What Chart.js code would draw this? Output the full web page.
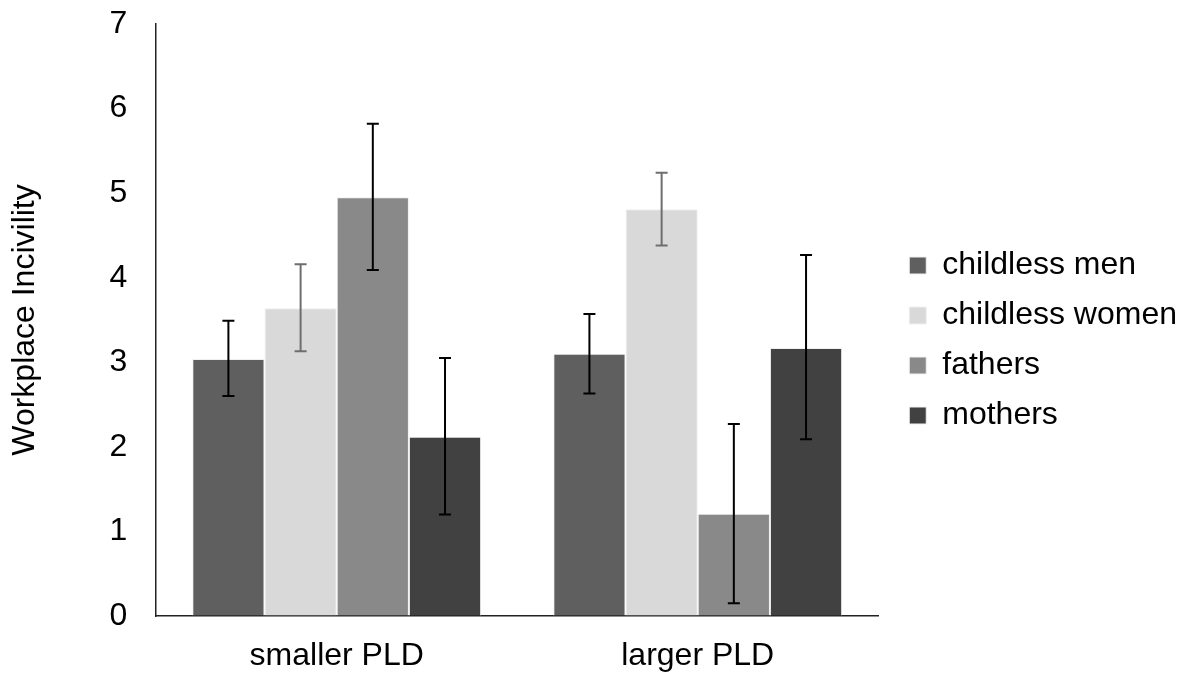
<!DOCTYPE html>
<html lang="en">
<head>
    <meta charset="utf-8">
    <title>Workplace Incivility</title>
    <script src="https://cdn.jsdelivr.net/npm/chart.js"></script>
    <style>
        html, body { margin: 0; padding: 0; background: #fff; }
        .wrap { width: 1185px; height: 676px; }
    </style>
</head>
<body>
    <div class="wrap">
        <canvas id="myChart" width="1185" height="676"></canvas>
    </div>

    <script>
        // values
        const categories = ['smaller PLD', 'larger PLD'];
        const seriesNames = ['childless men', 'childless women', 'fathers', 'mothers'];

        const childlessMen = [3.04, 3.10];
        const childlessWomen = [3.64, 4.81];
        const fathers = [4.95, 1.21];
        const mothers = [2.12, 3.17];

        // error bar ends (upper / lower)
        const childlessMenHi = [3.49, 3.57];
        const childlessMenLo = [2.60, 2.63];
        const childlessWomenHi = [4.16, 5.24];
        const childlessWomenLo = [3.13, 4.38];
        const fathersHi = [5.82, 2.27];
        const fathersLo = [4.09, 0.15];
        const mothersHi = [3.05, 4.27];
        const mothersLo = [1.20, 2.09];

        const yTicks = [0, 1, 2, 3, 4, 5, 6, 7];

        const fontFamily = '"Liberation Sans", Arial, sans-serif';
        const fontSize = 32;
        const colors = ['#5f5f5f', '#d9d9d9', '#898989', '#414141'];
        const errColors = ['#000', '#6e6e6e', '#000', '#000'];
        const allValues = [childlessMen, childlessWomen, fathers, mothers];
        const allHi = [childlessMenHi, childlessWomenHi, fathersHi, mothersHi];
        const allLo = [childlessMenLo, childlessWomenLo, fathersLo, mothersLo];

        const data = {
            labels: categories,
            datasets: seriesNames.map((name, i) => ({
                label: name,
                data: allValues[i],
                backgroundColor: colors[i],
                borderColor: '#f0f0f0',
                borderWidth: 1,
                errHi: allHi[i],
                errLo: allLo[i],
                errColor: errColors[i]
            }))
        };

        const errorBars = {
            id: 'errorBars',
            afterDatasetsDraw(chart) {
                const ctx = chart.ctx;
                const y = chart.scales.y;
                chart.data.datasets.forEach((ds, i) => {
                    const meta = chart.getDatasetMeta(i);
                    meta.data.forEach((bar, j) => {
                        const x = bar.x;
                        const top = y.getPixelForValue(ds.errHi[j]);
                        const bottom = y.getPixelForValue(ds.errLo[j]);
                        ctx.save();
                        ctx.strokeStyle = ds.errColor;
                        ctx.lineWidth = 2;
                        ctx.beginPath();
                        ctx.moveTo(x, top);
                        ctx.lineTo(x, bottom);
                        ctx.moveTo(x - 6, top);
                        ctx.lineTo(x + 6, top);
                        ctx.moveTo(x - 6, bottom);
                        ctx.lineTo(x + 6, bottom);
                        ctx.stroke();
                        ctx.restore();
                    });
                });
            }
        };

        // nudge the legend a little, like the original
        const legendShift = {
            id: 'legendShift',
            afterLayout(chart) {
                const lg = chart.legend;
                lg.left += 13;
                lg.right += 13;
                lg.top -= 9;
                lg.bottom -= 9;
            }
        };

        // transparent tick marks are used as spacing between axis and labels
        const hiddenTicks = (len) => ({
            display: true,
            drawOnChartArea: false,
            drawTicks: true,
            tickLength: len,
            tickColor: 'rgba(0,0,0,0)'
        });

        const config = {
            type: 'bar',
            data: data,
            options: {
                responsive: false,
                animation: false,
                layout: { padding: { left: 6, right: 16, top: 24, bottom: 1 } },
                datasets: {
                    bar: { categoryPercentage: 0.8, barPercentage: 1.0 }
                },
                plugins: {
                    legend: {
                        position: 'right',
                        align: 'center',
                        labels: {
                            boxWidth: 17,
                            boxHeight: 17,
                            padding: 18,
                            color: '#000',
                            font: { family: fontFamily, size: fontSize }
                        }
                    },
                    tooltip: { enabled: false }
                },
                scales: {
                    x: {
                        grid: hiddenTicks(21),
                        border: { display: true, color: '#222', width: 1.5 },
                        ticks: {
                            color: '#000',
                            padding: 3,
                            font: { family: fontFamily, size: fontSize, lineHeight: 1 }
                        }
                    },
                    y: {
                        min: 0,
                        max: 7,
                        afterBuildTicks(scale) {
                            scale.ticks = yTicks.map(v => ({ value: v }));
                        },
                        grid: hiddenTicks(26),
                        border: { display: true, color: '#222', width: 1.5 },
                        ticks: {
                            color: '#000',
                            padding: 3,
                            font: { family: fontFamily, size: fontSize }
                        },
                        title: {
                            display: true,
                            text: 'Workplace Incivility',
                            color: '#000',
                            padding: { top: 0, bottom: 62 },
                            font: { family: fontFamily, size: fontSize }
                        }
                    }
                }
            },
            plugins: [errorBars, legendShift]
        };

        const myChart = new Chart(
            document.getElementById('myChart'),
            config
        );
    </script>
</body>
</html>
